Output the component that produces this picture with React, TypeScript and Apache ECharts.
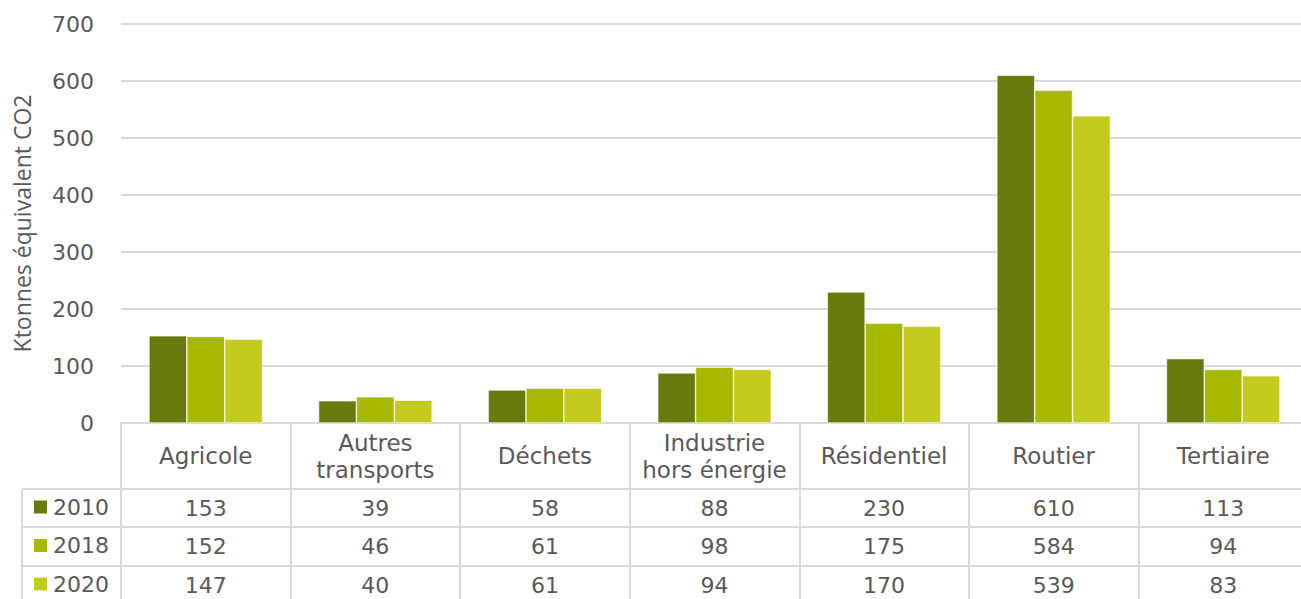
import React, { useEffect, useRef } from "react";
import * as echarts from "echarts";

const categories = [
  "Agricole",
  "Autres\ntransports",
  "Déchets",
  "Industrie\nhors énergie",
  "Résidentiel",
  "Routier",
  "Tertiaire",
];
const years = ["2010", "2018", "2020"];
const values2010 = [153, 39, 58, 88, 230, 610, 113];
const values2018 = [152, 46, 61, 98, 175, 584, 94];
const values2020 = [147, 40, 61, 94, 170, 539, 83];
const yAxisTitle = "Ktonnes équivalent CO2";
const yMin = 0;
const yMax = 700;
const yStep = 100;

const colors = ["#687A0B", "#A6B800", "#C4CB1E"];
const textColor = "#595959";
const lineColor = "#D9D9D9";
const FONT = "DejaVu Sans";
const FS = 22;
const CAT_FS = 23;

export default function App() {
  const ref = useRef<HTMLDivElement>(null);
  useEffect(() => {
    if (!ref.current) return;
    const chart = echarts.init(ref.current, undefined, { renderer: "svg" });
    const seriesValues = [values2010, values2018, values2020];
    const rowMargins = [85, 123.5, 162];
    const rowAxes = seriesValues.map((vals, i) => ({
      type: "category",
      gridIndex: 0,
      position: "bottom",
      data: vals.map(String),
      axisLine: { show: false },
      axisTick: { show: false },
      splitLine: { show: false },
      axisLabel: {
        interval: 0,
        margin: rowMargins[i],
        verticalAlign: "middle",
        color: textColor,
        fontFamily: FONT,
        fontSize: FS,
      },
    }));
    const tableLine = (x1: number, y1: number, x2: number, y2: number) => ({
      type: "line",
      shape: { x1, y1, x2, y2 },
      style: { stroke: lineColor, lineWidth: 2 },
      silent: true,
    });
    chart.setOption({
      animation: false,
      textStyle: { fontFamily: FONT },
      grid: { left: 121, right: 0, top: 24, bottom: 176, containLabel: false },
      legend: {
        data: years,
        orient: "vertical",
        left: 32,
        top: 496,
        padding: 0,
        itemWidth: 15,
        itemHeight: 15,
        itemGap: 16.5,
        icon: "rect",
        selectedMode: false,
        textStyle: { color: textColor, fontFamily: FONT, fontSize: FS, lineHeight: 22 },
      },
      xAxis: [
        {
          type: "category",
          data: categories,
          axisLine: { show: true, lineStyle: { color: lineColor, width: 2 } },
          axisTick: { show: true, length: 176, lineStyle: { color: lineColor, width: 2 } },
          axisLabel: {
            interval: 0,
            margin: 33,
            verticalAlign: "middle",
            lineHeight: 27,
            color: textColor,
            fontFamily: FONT,
            fontSize: CAT_FS,
          },
          splitLine: { show: false },
        },
        ...rowAxes,
      ],
      yAxis: {
        type: "value",
        min: yMin,
        max: yMax,
        interval: yStep,
        name: yAxisTitle,
        nameLocation: "middle",
        nameGap: 88,
        nameTextStyle: { color: textColor, fontFamily: "Open Sans", fontSize: 23 },
        axisLine: { show: false },
        axisTick: { show: false },
        axisLabel: { margin: 27, color: textColor, fontFamily: FONT, fontSize: FS },
        splitLine: { lineStyle: { color: lineColor, width: 2 } },
      },
      graphic: [
        tableLine(22, 489, 1310, 489),
        tableLine(22, 527, 1310, 527),
        tableLine(22, 566, 1310, 566),
        tableLine(22, 489, 22, 599),
      ],
      series: years.map((y, i) => ({
        name: y,
        type: "bar",
        xAxisIndex: 0,
        data: seriesValues[i],
        barGap: "0%",
        barCategoryGap: "33%",
        itemStyle: { color: colors[i], borderColor: "#ffffff", borderWidth: 0.6 },
      })),
    });
    return () => chart.dispose();
  }, []);
  return (
    <div style={{ position: "absolute", left: 0, top: 0, width: 1301, height: 599, overflow: "hidden" }}>
      <div ref={ref} style={{ width: 1308, height: 599 }} />
    </div>
  );
}
